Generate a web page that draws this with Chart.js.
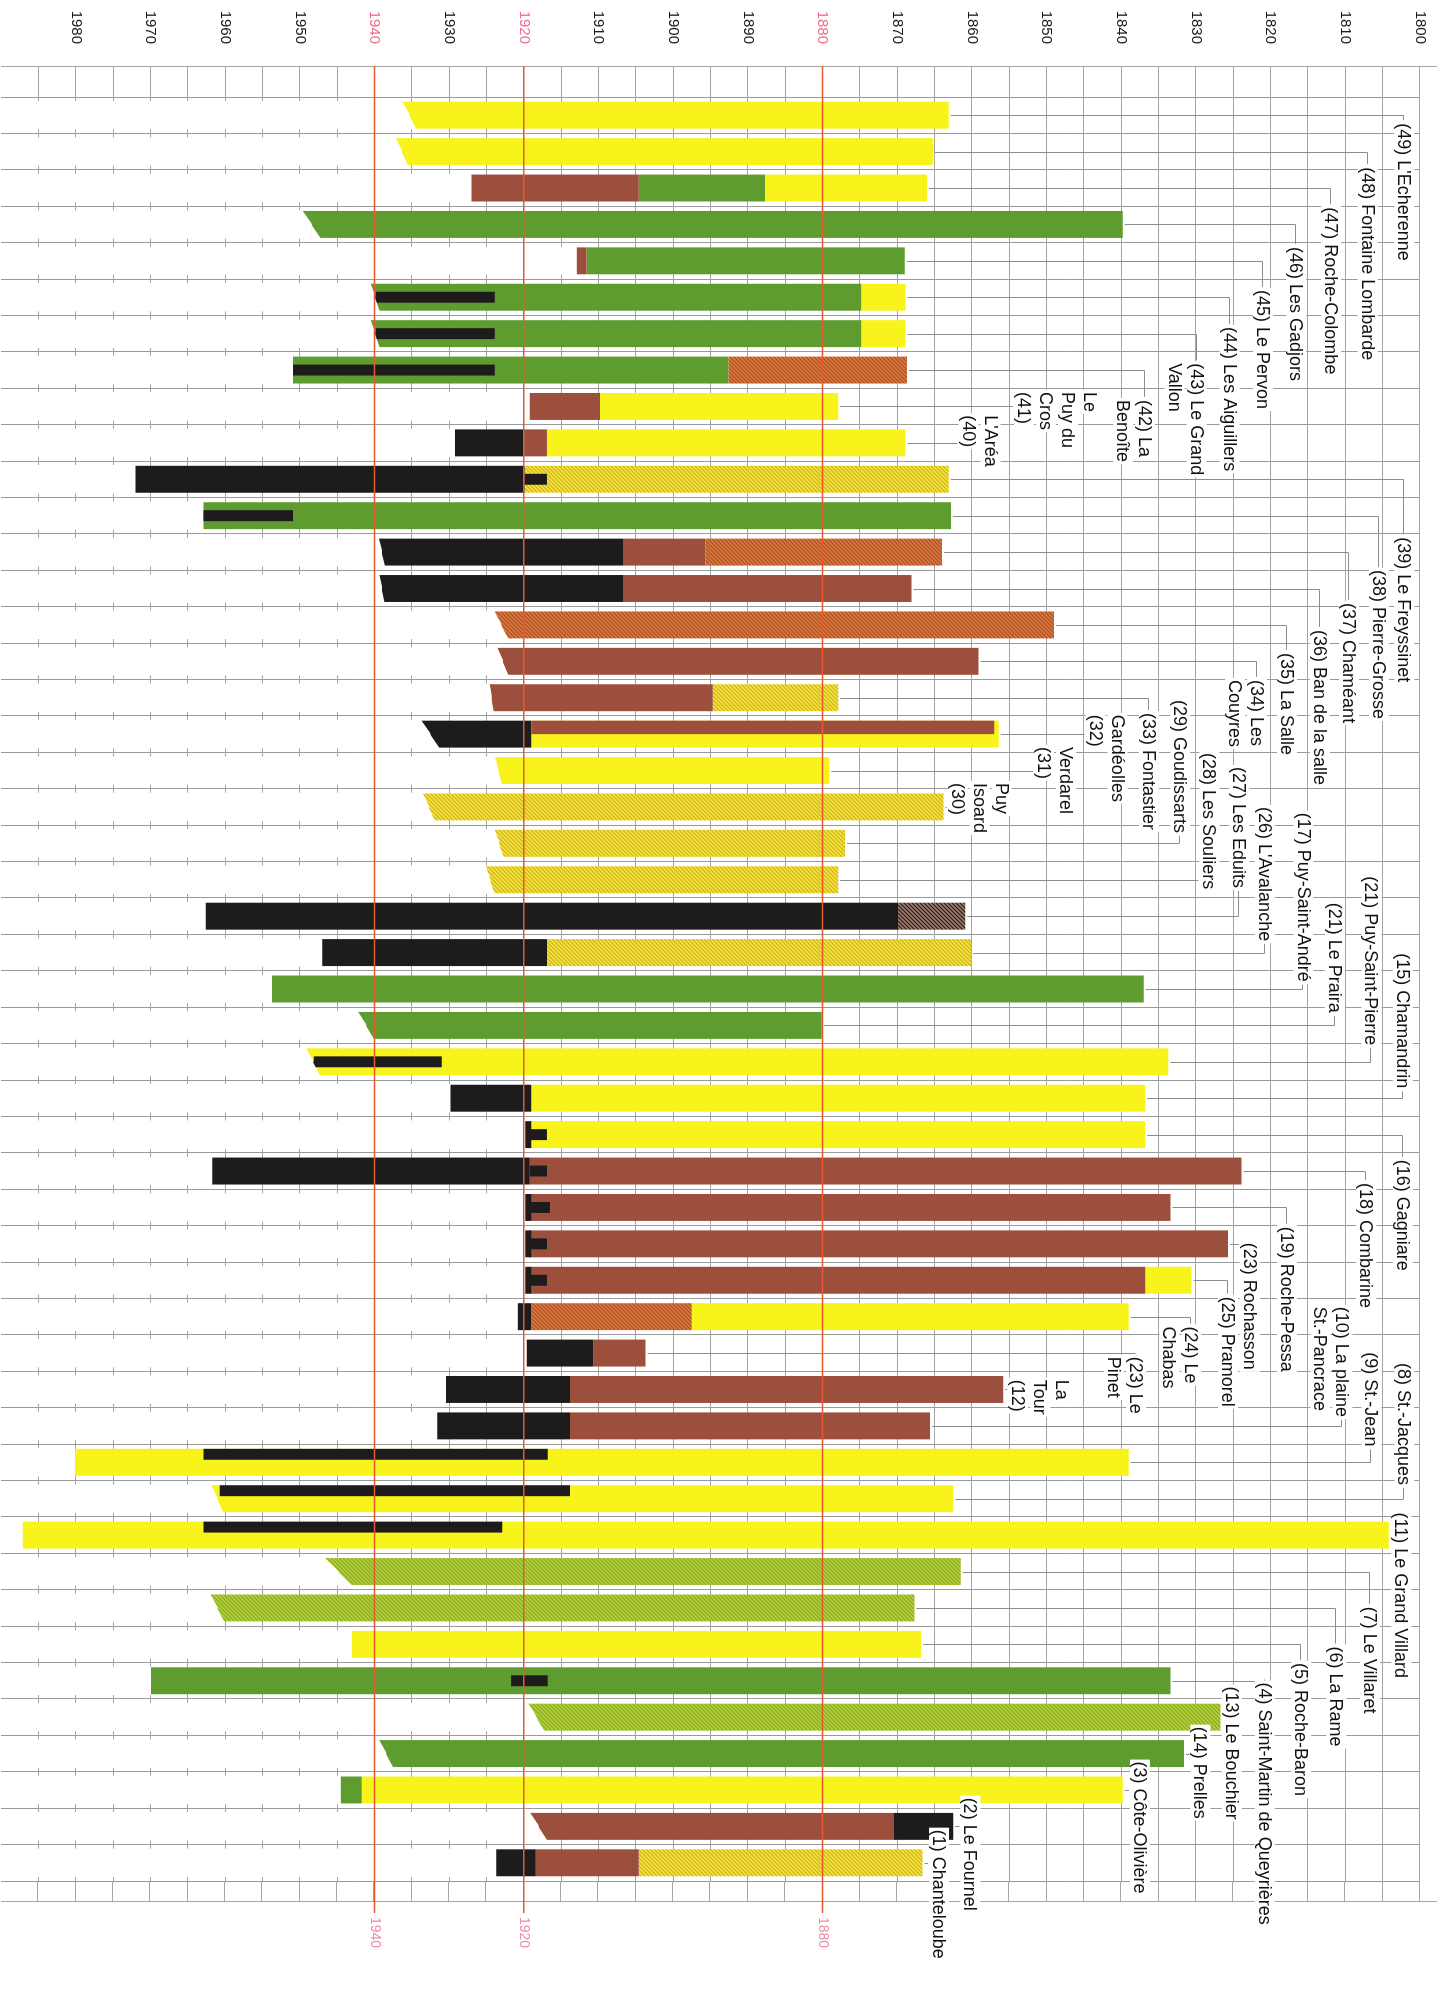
<!DOCTYPE html>
<html>
<head>
<meta charset="utf-8">
<title>Exploitations – chronologie 1800-1980</title>
<script src="https://cdn.jsdelivr.net/npm/chart.js@4.4.1/dist/chart.umd.min.js"></script>
<style>
  html, body { margin: 0; padding: 0; background: #fff; overflow: hidden; }
  body { width: 1437px; height: 1992px; position: relative; }
  /* le graphique est construit en paysage puis tourné d'un quart de tour */
  #wrap { position: absolute; left: 0; top: 0; width: 1992px; height: 1437px;
          transform-origin: 0 0; transform: translateX(1437px) rotate(90deg); }
</style>
</head>
<body>
<div id="wrap"><canvas id="chart" width="1992" height="1437"></canvas></div>
<script>
// ─── Données ────────────────────────────────────────────────────────────────
// lignes du diagramme, de haut en bas (tableaux = étiquette sur plusieurs lignes)
const rowNames = [
  "(49) L'Echerenne", '(48) Fontaine Lombarde', '(47) Roche-Colombe', '(46) Les Gadjors',
  '(45) Le Pervon', '(44) Les Aiguillers', ['(43) Le Grand', 'Vallon'], ['(42) La', 'Benoîte'],
  ['Le', 'Puy du', 'Cros', '(41)'], ["L'Aréa", '(40)'], '(39) Le Freyssinet', '(38) Pierre-Grosse',
  '(37) Chaméant', '(36) Ban de la salle', '(35) La Salle', ['(34) Les', 'Couyres'],
  '(33) Fontastier', ['Gardéolles', '(32)'], ['Verdarel', '(31)'], ['Puy', 'Isoard', '(30)'],
  '(29) Goudissarts', '(28) Les Souliers', '(27) Les Eduits', "(26) L'Avalanche",
  '(17) Puy-Saint-André', '(21) Le Praira', '(21) Puy-Saint-Pierre', '(15) Chamandrin',
  '(16) Gagniare', '(18) Combarine', '(19) Roche-Pessa', '(23) Rochasson',
  '(25) Pramorel', ['(24) Le', 'Chabas'], ['(23) Le', 'Pinet'], ['La', 'Tour', '(12)'],
  ['(10) La plaine', 'St.-Pancrace'], '(9) St.-Jean', '(8) St.-Jacques', '(11) Le Grand Villard',
  '(7) Le Villaret', '(6) La Rame', '(5) Roche-Baron', '(4) Saint-Martin de Queyrières',
  '(13) Le Bouchier', '(14) Prelles', '(3) Côte-Olivière', '(2) Le Fournel', '(1) Chanteloube',
];

const yearTicks = [1800, 1810, 1820, 1830, 1840, 1850, 1860, 1870, 1880, 1890,
                   1900, 1910, 1920, 1930, 1940, 1950, 1960, 1970, 1980];
const redYears  = [1880, 1920, 1940];

// périodes par couleur : [ligne, début, fin]
const yellow = [
  [1, 1863.1, 1935.3], [2, 1865.2, 1936.3], [3, 1866.0, 1887.7], [6, 1868.9, 1874.8],
  [7, 1868.9, 1874.8], [9, 1877.9, 1909.8], [10, 1868.9, 1916.9], [18, 1856.4, 1919.0],
  [19, 1879.1, 1923.4], [27, 1833.7, 1948.2], [28, 1836.8, 1919.0], [29, 1836.8, 1919.2],
  [33, 1830.6, 1836.8], [34, 1839.0, 1897.5], [38, 1839.0, 1980.1], [39, 1862.5, 1961.0],
  [40, 1804.2, 1987.1], [43, 1866.8, 1943.0], [47, 1839.8, 1941.7],
];
const green = [
  [3, 1887.7, 1904.6], [4, 1839.8, 1948.4], [5, 1869.0, 1911.6], [6, 1874.8, 1939.9],
  [7, 1874.8, 1939.9], [8, 1892.6, 1950.9], [12, 1862.8, 1962.9], [25, 1837.0, 1953.7],
  [26, 1880.1, 1941.1], [44, 1833.4, 1969.9], [46, 1831.6, 1938.4], [47, 1941.7, 1944.5],
];
const brown = [
  [3, 1904.6, 1927.0], [5, 1911.6, 1912.9], [9, 1909.8, 1919.2], [10, 1916.9, 1919.9],
  [13, 1895.7, 1906.7], [14, 1868.1, 1906.7], [16, 1859.1, 1922.8], [17, 1894.7, 1924.3],
  [30, 1823.9, 1919.2], [31, 1833.4, 1919.2], [32, 1825.7, 1919.2], [33, 1836.8, 1919.2],
  [35, 1903.7, 1910.7], [36, 1855.8, 1913.8], [37, 1865.6, 1913.8], [48, 1870.5, 1918.0],
  [49, 1904.6, 1918.4],
];
const black = [
  [10, 1919.9, 1929.2], [11, 1919.9, 1972.0], [13, 1906.7, 1939.0], [14, 1906.7, 1939.0],
  [18, 1919.0, 1932.5], [23, 1869.9, 1962.6], [24, 1916.9, 1947.0], [28, 1919.0, 1929.8],
  [29, 1919.0, 1919.8], [30, 1919.2, 1961.7], [31, 1919.0, 1919.8], [32, 1919.0, 1919.8],
  [33, 1919.0, 1919.8], [34, 1919.0, 1920.8], [35, 1910.7, 1919.6], [36, 1913.8, 1930.4],
  [37, 1913.8, 1931.6], [48, 1862.5, 1870.5], [49, 1918.4, 1923.7],
];
const yellowHatch = [
  [11, 1863.1, 1919.9], [17, 1877.9, 1894.7], [20, 1863.8, 1932.7], [21, 1877.0, 1923.3],
  [22, 1877.9, 1924.5], [24, 1860.1, 1916.9], [49, 1866.6, 1904.6],
];
const brownHatch = [[8, 1868.7, 1892.6], [13, 1864.0, 1895.7], [15, 1849.0, 1923.0], [34, 1897.5, 1919.0]];
const greenHatch = [[41, 1861.5, 1944.8], [42, 1867.7, 1961.0], [45, 1826.7, 1918.3]];
const darkHatch  = [[23, 1860.9, 1869.9]];
const brownTop   = [[18, 1857.0, 1919.0]];
const blackThin  = [
  [6, 1923.9, 1939.9], [7, 1923.9, 1939.9], [8, 1923.9, 1950.9], [11, 1916.9, 1919.9],
  [12, 1950.9, 1962.9], [27, 1931.0, 1948.2], [29, 1916.9, 1919.2], [30, 1916.9, 1919.2],
  [31, 1916.5, 1919.2], [32, 1916.9, 1919.2], [33, 1916.9, 1919.2], [44, 1916.8, 1921.7],
];
const blackThinTop = [[38, 1916.8, 1962.9], [39, 1913.8, 1960.7], [40, 1922.9, 1962.9]];

// placement des étiquettes : colonne (année) et décalage du début de texte (en lignes)
const labelCol = [
  1802.1, 1807.0, 1811.9, 1816.6, 1821.0, 1825.5, 1829.9, 1836.8, 1844.2, 1857.5,
  1802.1, 1805.5, 1809.5, 1813.4, 1817.8, 1821.8, 1836.3, 1840.5, 1847.4, 1856.0,
  1832.1, 1828.2, 1824.2, 1820.8, 1815.6, 1811.4, 1806.5, 1802.3, 1802.3, 1807.2,
  1817.8, 1822.8, 1825.7, 1830.6, 1838.0, 1847.9, 1810.4, 1806.5, 1802.1, 1802.5,
  1806.7, 1811.2, 1815.9, 1820.8, 1825.2, 1829.4, 1837.5, 1860.2, 1864.4,
];
const labelShift = [
  0.22, 0.43, 0.53, 0.62, 0.80, 0.82, 0.81, 0.82, -0.40, -0.76,
  1.59, 1.49, 1.40, 1.14, 0.77, 0.51, 0.42, -0.53, -0.65, -0.66,
  -3.94, -3.48, -4.10, -4.00, -4.84, -3.37, -5.10, -3.98, 0.69, 0.33,
  0.53, -0.03, 0.45, 0.27, 0.10, -0.27, -3.27, -3.02, -3.73, -0.62,
  0.97, 1.06, 0.51, 0.05, -0.84, -0.74, -0.78, -0.79, -0.91,
];

// lignes dont la fin est coupée en biais : [ligne, décalage en px]
const slantRows = [
  [1, 14], [2, 12], [4, 18], [6, 9], [7, 9], [13, 6], [14, 5], [15, 14], [16, 11],
  [17, 4], [18, 18], [19, 7], [20, 12], [21, 9], [22, 9], [26, 16], [27, 14],
  [39, 12], [41, 27], [42, 14], [45, 16], [46, 14], [48, 17],
];

// ─── Mise en forme ──────────────────────────────────────────────────────────
const FONT = '"Liberation Sans", Arial, Helvetica, sans-serif';
const N    = rowNames.length;
const BAR  = 0.74;   // épaisseur d'une barre / hauteur de ligne
const THIN = 0.30;
const LINE = 22;     // interligne des étiquettes
const GRID = '#a4a4a4';

// grille tous les 5 ans
const gridYears = [];
for (let yr = 1800; yr <= 1990; yr += 5) gridYears.push(yr);

/** motif hachuré (traits « / » qui deviennent « \ » après rotation) */
function hatch(base, stripe) {
  const t = document.createElement('canvas');
  t.width = t.height = 4;
  const g = t.getContext('2d');
  g.fillStyle = base; g.fillRect(0, 0, 4, 4);
  g.strokeStyle = stripe; g.lineWidth = 1.2;
  g.beginPath();
  g.moveTo(-1, 5); g.lineTo(5, -1);
  g.moveTo(-1, 1); g.lineTo(1, -1);
  g.moveTo(3, 5);  g.lineTo(5, 3);
  g.stroke();
  return g.createPattern(t, 'repeat');
}

function toSeries(list) {
  const out = new Array(N).fill(null);
  list.forEach(([row, a, b]) => { out[row - 1] = [a, b]; });
  return out;
}

// dans l'ordre de dessin (le dernier passe au-dessus)
const SERIES = [
  { name: 'jaune',          list: yellow,       color: '#f9f31c' },
  { name: 'jaune hachuré',  list: yellowHatch,  color: hatch('#f5e43e', '#cfae1e') },
  { name: 'vert',           list: green,        color: '#5e9c30' },
  { name: 'vert hachuré',   list: greenHatch,   color: hatch('#b4d03c', '#84a824') },
  { name: 'brun',           list: brown,        color: '#9c4f3c' },
  { name: 'brun hachuré',   list: brownHatch,   color: hatch('#dc7a3e', '#a44c2a') },
  { name: 'sombre hachuré', list: darkHatch,    color: hatch('#9a7a6e', '#2a1d1a') },
  { name: 'noir',           list: black,        color: '#1d1b1b' },
  { name: 'brun (moitié)',  list: brownTop,     color: '#9c4f3c', size: 0.37, shift: -1 },
  { name: 'noir fin',       list: blackThin,    color: '#1d1b1b', size: THIN },
  { name: 'noir fin haut',  list: blackThinTop, color: '#1d1b1b', size: THIN, shift: -1 },
];

// étendue totale de chaque ligne (début le plus ancien, fin la plus récente)
const rowSpan = new Array(N).fill(null);
SERIES.forEach(s => s.list.forEach(([row, a, b]) => {
  const r = rowSpan[row - 1];
  rowSpan[row - 1] = r ? [Math.min(r[0], a), Math.max(r[1], b)] : [a, b];
}));

// ─── Plugins ────────────────────────────────────────────────────────────────
/** décale les barres « moitié » vers le bord haut de la ligne */
const shiftBars = {
  id: 'shiftBars',
  afterDatasetsUpdate(chart) {
    const full = chart.scales.x.width / N * BAR;
    chart.data.datasets.forEach((ds, i) => {
      if (!ds.shift) return;
      chart.getDatasetMeta(i).data.forEach(el => { el.x += ds.shift * (full - el.width) / 2; });
    });
  },
};

const decor = {
  id: 'decor',
  beforeDatasetsDraw(chart) {
    const { ctx, chartArea: a, scales: { x, y } } = chart;
    const band = x.width / N;
    ctx.save();
    // zone blanche après la fin d'exploitation
    ctx.fillStyle = '#fff';
    rowSpan.forEach((s, i) => {
      if (!s) return;
      const c = x.getPixelForValue(i);
      const v = y.getPixelForValue(s[1]);
      ctx.fillRect(c - band * 0.39, v, band * 0.78, a.bottom - v + 2);
    });
    // bandeaux de la grille (en-tête et pied)
    ctx.strokeStyle = GRID; ctx.lineWidth = 1;
    ctx.beginPath();
    gridYears.forEach(yr => {
      if (yr > 1985) return;
      const v = Math.round(y.getPixelForValue(yr)) + 0.5;
      ctx.moveTo(a.right, v); ctx.lineTo(a.right + 20, v);
    });
    ctx.moveTo(a.left - 30.5, 0); ctx.lineTo(a.left - 30.5, a.bottom);
    ctx.moveTo(a.right + 20.5, 0); ctx.lineTo(a.right + 20.5, a.bottom);
    ctx.stroke();
    ctx.restore();
  },
  afterDatasetsDraw(chart) {
    const { ctx, chartArea: a, scales: { x, y } } = chart;
    const half = x.width / N * BAR / 2;
    ctx.save();
    // fins coupées en biais
    slantRows.forEach(([row, s]) => {
      const i = row - 1, end = rowSpan[i][1];
      const seg = SERIES.find(S => !S.size && S.list.some(([r, , b]) => r === row && b === end));
      const c = x.getPixelForValue(i), v = y.getPixelForValue(end), h = s / 2;
      ctx.fillStyle = seg.color;
      ctx.beginPath();
      ctx.moveTo(c - half, v - 0.5); ctx.lineTo(c - half, v + h); ctx.lineTo(c, v - 0.5);
      ctx.closePath(); ctx.fill();
      ctx.fillStyle = '#fff';
      ctx.beginPath();
      ctx.moveTo(c, v + 0.5); ctx.lineTo(c + half + 0.5, v + 0.5); ctx.lineTo(c + half + 0.5, v - h);
      ctx.closePath(); ctx.fill();
    });
    // années repères
    ctx.strokeStyle = '#e45a2e'; ctx.lineWidth = 1.5;
    redYears.forEach(yr => {
      const v = y.getPixelForValue(yr);
      ctx.beginPath(); ctx.moveTo(a.left - 31, v); ctx.lineTo(a.right + 32, v); ctx.stroke();
    });
    ctx.restore();
  },
  afterDraw(chart) {
    const { ctx, scales: { x, y } } = chart;
    const band = x.width / N;
    ctx.save();
    ctx.font = '18px ' + FONT;
    ctx.textBaseline = 'middle';

    const boxes = rowNames.map((name, i) => {
      const lines = [].concat(name);
      const u0 = x.getPixelForValue(i) + labelShift[i] * band;
      const w  = Math.max(...lines.map(t => ctx.measureText(t).width));
      const v0 = y.getPixelForValue(labelCol[i]);
      return { lines, u0, u1: u0 + w, v0, v1: v0 + (lines.length - 1) * LINE };
    });

    // traits de rappel : barre → colonne de l'étiquette → texte
    ctx.strokeStyle = '#8c8c8c'; ctx.lineWidth = 1;
    boxes.forEach((b, i) => {
      if (!rowSpan[i]) return;
      const uc   = Math.round(x.getPixelForValue(i)) + 0.5;
      const vBar = y.getPixelForValue(rowSpan[i][0]) - 2;
      ctx.beginPath();
      if (uc >= b.u0 && uc <= b.u1) {
        const vEnd = b.v1 + 11;
        if (vBar > vEnd) { ctx.moveTo(uc, vBar); ctx.lineTo(uc, vEnd); }
      } else {
        const vc = Math.round(b.v0) + 0.5;
        ctx.moveTo(uc, vBar); ctx.lineTo(uc, vc);
        ctx.lineTo(uc < b.u0 ? b.u0 - 3 : b.u1 + 3, vc);
      }
      ctx.stroke();
    });

    boxes.forEach(b => {
      b.lines.forEach((t, j) => {
        const v = b.v0 + j * LINE;
        const w = ctx.measureText(t).width;
        ctx.fillStyle = '#fff';
        ctx.fillRect(b.u0 - 2, v - 10, w + 4, 20);
        ctx.fillStyle = '#111';
        ctx.fillText(t, b.u0, v + 1);
      });
    });
    ctx.restore();
  },
};

// ─── Graphique ──────────────────────────────────────────────────────────────
new Chart(document.getElementById('chart'), {
  type: 'bar',
  data: {
    labels: rowNames,
    datasets: SERIES.map((s, i) => ({
      label: s.name,
      data: toSeries(s.list),
      backgroundColor: s.color,
      borderWidth: 0,
      grouped: false,
      categoryPercentage: 1,
      barPercentage: s.size || BAR,
      order: SERIES.length - i,
      shift: s.shift || 0,
    })),
  },
  options: {
    responsive: false,
    devicePixelRatio: 1,
    animation: false,
    events: [],
    layout: { padding: { top: 17, bottom: 1, left: 0, right: 0 } },
    plugins: { legend: { display: false }, tooltip: { enabled: false } },
    scales: {
      x: {
        type: 'category',
        offset: true,
        grid: { offset: true, color: '#9a9a9a', drawTicks: false },
        ticks: { display: false },
        border: { display: false },
        afterFit: s => { s.height = 0; s.paddingLeft = 0; s.paddingRight = 0; },
      },
      y: {
        type: 'linear',
        position: 'left',
        reverse: true,
        min: 1800, max: 1990,
        afterBuildTicks: s => { s.ticks = gridYears.map(v => ({ value: v })); },
        ticks: {
          autoSkip: false,
          padding: 22,
          font: { family: FONT, size: 15 },
          color: c => redYears.includes(c.tick.value) ? '#f06c8c' : '#1a1a1a',
          callback: v => yearTicks.includes(v) ? String(v) : '',
        },
        grid: {
          color: c => (c.tick && c.tick.value > 1985) ? 'rgba(0,0,0,0)' : GRID,
          lineWidth: 1,
          tickLength: 31,
        },
        border: { display: false },
        afterFit: s => { s.width = 97; s.paddingTop = 0; s.paddingBottom = 0; },
      },
      y2: {
        type: 'linear',
        position: 'right',
        reverse: true,
        min: 1800, max: 1990,
        afterBuildTicks: s => { s.ticks = redYears.map(v => ({ value: v })); },
        ticks: { padding: 36, font: { family: FONT, size: 14 }, color: '#f28aa2', callback: v => String(v) },
        grid: { display: false, drawTicks: false },
        border: { display: false },
        afterFit: s => { s.width = 111; s.paddingTop = 0; s.paddingBottom = 0; },
      },
    },
  },
  plugins: [shiftBars, decor],
});
</script>
</body>
</html>
